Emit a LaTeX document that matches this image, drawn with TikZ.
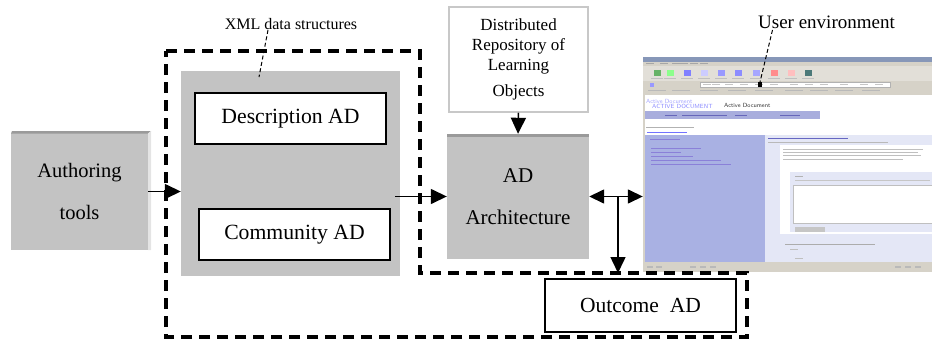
\documentclass[tikz,border=0pt]{standalone}
\usepackage{fontspec}
\setmainfont{Liberation Serif}
\usetikzlibrary{arrows.meta}

\definecolor{boxgray}{HTML}{C3C3C3}
\definecolor{edgedark}{HTML}{9A9A9A}
\definecolor{edgelight}{HTML}{E4E4E4}
\definecolor{repoline}{HTML}{C8C8C8}
\definecolor{winface}{HTML}{D6D2C8}
\definecolor{wintitle}{HTML}{8797B8}
\definecolor{navpurple}{HTML}{A8ADDD}
\definecolor{panelpurple}{HTML}{A9B1E3}
\definecolor{panellight}{HTML}{E4E7F6}
\definecolor{linkpurple}{HTML}{8A80D8}

\tikzset{
  graybox/.style={fill=boxgray, draw=none, inner sep=0pt, align=center,
    font=\fontsize{20.5}{42}\selectfont},
  whitebox/.style={fill=white, draw=black, line width=1.4pt, inner sep=0pt,
    font=\fontsize{21.7}{24}\selectfont},
  repobox/.style={fill=white, draw=repoline, line width=1.5pt, inner sep=0pt,
    align=center, font=\fontsize{17}{20}\selectfont},
  arr/.style={line width=1.5pt, -{Triangle[length=16pt,width=15pt]}},
  dblarr/.style={line width=1.5pt, {Triangle[length=15pt,width=14pt]}-{Triangle[length=15pt,width=14pt]}},
  bigdash/.style={line width=3.5pt, dash pattern=on 11pt off 7pt},
  leader/.style={line width=1pt, dash pattern=on 4pt off 2.5pt},
  caption/.style={inner sep=0pt},
  tinytext/.style={inner sep=0pt, font=\sffamily\fontsize{6}{6}\selectfont}
}

\begin{document}
\begin{tikzpicture}[x=1pt,y=-1pt]
\useasboundingbox (0,0) rectangle (932,340);

% Authoring tools block with bevelled edges
\node[graybox, minimum width=137pt, minimum height=117pt] (auth) at (79.5,191.5) {Authoring\\tools};
\fill[edgedark] (12,131) -- (151,131) -- (148,133.5) -- (11,133.5) -- cycle;
\fill[edgelight] (148,133.5) -- (151,131) -- (151,250) -- (148,250) -- cycle;

% XML data structures container
\node[fill=boxgray, inner sep=0pt, minimum width=219pt, minimum height=205pt] (xml) at (290.5,173.5) {};
\node[whitebox, minimum width=191pt, minimum height=51pt] (desc) at (290.5,118.5) {Description AD};
\node[whitebox, minimum width=191pt, minimum height=51pt] (comm) at (294.5,234.5) {Community AD};

% Repository of learning objects
\node[repobox, minimum width=139pt, minimum height=105pt] (repo) at (518.5,59.5)
  {Distributed\\Repository of\\Learning\\[6pt]Objects};

% AD Architecture block
\node[graybox, minimum width=142pt, minimum height=125pt, font=\fontsize{21}{42}\selectfont] (arch) at (518,196.5) {AD\\Architecture};
\fill[edgedark] (447,134) rectangle (589,137);

% Outcome AD
\node[whitebox, minimum width=191pt, minimum height=53pt, font=\fontsize{21.5}{24}\selectfont] (outc) at (640.5,305.5) {Outcome~ AD};

% User environment: browser window
\node[fill=winface, inner sep=0pt, minimum width=289pt, minimum height=215pt] (screen) at (787.5,164.5) {};
\begin{scope}
  \clip (643,57) rectangle (932,272);
  \fill[wintitle] (643,57) rectangle (932,61.5);
  \fill[winface] (643,61.5) rectangle (932,66);
  \foreach \x in {646,660,672,680,690,700} \fill[gray!70] (\x,63) rectangle ++(8,1.2);
  \fill[winface!70!white] (643,66) rectangle (932,81);
  \foreach \x/\c in {654/green!50!black!60,667/green!45,684/blue!50,701/blue!20,718/blue!40,735/blue!45,753/blue!35,771/red!45,788/red!25,805/teal!50!black!70}
    \fill[\c] (\x,70) rectangle ++(7,6);
  \foreach \x in {651,664,681,698,715,732,750,768,785,802} \fill[gray!50] (\x,78) rectangle ++(12,1);
  \fill[winface] (643,81) rectangle (932,94.5);
  \fill[white] (700,82.5) rectangle (890,87);
  \draw[gray!60, line width=0.4pt] (700,82.5) rectangle (890,87);
  \foreach \x in {703,712,725,740,755,770,790,805,820,840,860,875} \fill[gray!45] (\x,84.2) rectangle ++(8,1);
  \foreach \x in {648,672,700,728,755,785,810,835,862} \fill[gray!55] (\x,90) rectangle ++(18,1.3);
  \fill[blue!40] (650,83) rectangle ++(4,4);
  \fill[white] (645,94.5) rectangle (932,262);
  \node[tinytext, text=blue!35, anchor=west] (hdr1) at (646,101) {Active Document};
  \node[tinytext, text=blue!45, anchor=west] (hdr2) at (652,106) {ACTIVE DOCUMENT};
  \node[tinytext, text=black!80, anchor=west] (hdr3) at (724,105) {Active Document};
  \fill[navpurple] (645,111) rectangle (820,119);
  \foreach \x/\w in {665/12,682/45,735/12,780/20} \fill[blue!55!black!60] (\x,114.5) rectangle ++(\w,1);
  \fill[gray!60] (646,126.5) rectangle ++(48,0.9);
  \fill[blue!55] (647,131.5) rectangle ++(40,0.9);
  \fill[panelpurple] (645,135) rectangle (765,262);
  \fill[linkpurple] (650,139) rectangle ++(30,1);
  \foreach \y/\w in {148/50,152/30,156/42,160/70,164/80} \fill[linkpurple] (651,\y) rectangle ++(\w,0.9);
  \fill[panellight] (765,135) rectangle (932,262);
  \fill[blue!60!black!60] (768,138) rectangle ++(80,0.9);
  \fill[gray!55] (768,142) rectangle ++(120,0.8);
  \fill[white] (780,145) rectangle (932,234);
  \foreach \y/\w in {149/140,152/135,155/138,159/120} \fill[gray!50] (783,\y) rectangle ++(\w,0.8);
  \fill[panellight] (790,172) rectangle (932,232);
  \fill[gray!60] (795,176) rectangle ++(8,0.8);
  \fill[gray!45] (795,180) rectangle ++(135,0.8);
  \fill[white] (793,185) rectangle (932,223);
  \draw[gray!50, line width=0.5pt] (793,185) rectangle (935,223);
  \fill[gray!45] (795,227) rectangle ++(30,5);
  \fill[panellight] (780,237) rectangle (932,262);
  \fill[gray!65] (785,244) rectangle ++(90,0.9);
  \fill[gray!50] (790,249) rectangle ++(8,0.8);
  \fill[gray!50] (795,258) rectangle ++(8,0.8);
  \fill[winface] (643,262) rectangle (932,272);
  \foreach \x in {647,656,690,700,710,895,905,915} \fill[gray!55] (\x,266) rectangle ++(6,1.5);
\end{scope}

% Flow arrows
\draw[arr] (auth.east) -- (auth.east -| xml.west);
\draw[arr] ([xshift=-5pt]xml.east |- arch.west) -- (arch.west);
\draw[arr] (repo.south) -- (arch.north);
\coordinate (split) at (618,196.5);
\coordinate (outtop) at (618,273);
\draw[dblarr] (arch.east) -- (arch.east -| screen.west);
\draw[arr] (split) -- (outtop);

% Dashed boundary of the active document
\draw[bigdash] (166,51) -- (420,51) -- (420,273) -- (747,273) -- (747,337) -- (166,337) -- cycle;

% Callouts
\node[caption, font=\fontsize{16}{18}\selectfont] (xmlcap) at (291,24) {XML data structures};
\coordinate (xmltip) at (259,77);
\draw[leader] ([xshift=-23pt,yshift=-6pt]xmlcap.center) -- (xmltip);
\node[caption, font=\fontsize{19}{22}\selectfont] (usercap) at (826.5,22) {User environment};
\coordinate (usertip) at (760,82);
\draw[leader] ([xshift=-54pt,yshift=-8pt]usercap.center) -- (usertip);
\fill[black] ([xshift=-2pt]usertip) rectangle ++(4,5);
\end{tikzpicture}
\end{document}
